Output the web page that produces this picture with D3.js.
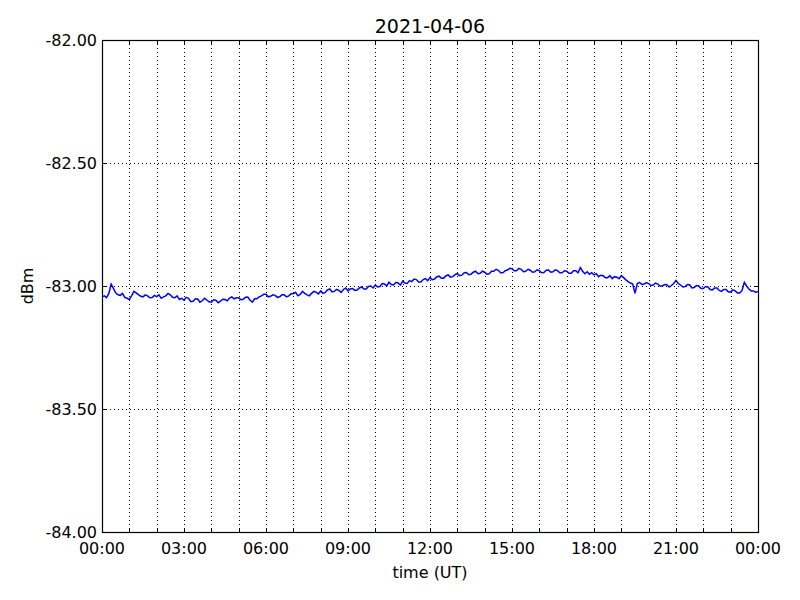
<!DOCTYPE html>
<html><head><meta charset="utf-8">
<script src="https://cdn.jsdelivr.net/npm/d3@7"></script>
<style>body{margin:0;background:#fff;} text{font-family:"DejaVu Sans",sans-serif;}</style>
</head><body><svg id="c" width="800" height="600"></svg>
<script>
const title = "2021-04-06";
const xLabel = "time (UT)";
const yLabel = "dBm";
const yTicks = [-84, -83.5, -83, -82.5, -82];
const xTickHours = [0, 3, 6, 9, 12, 15, 18, 21, 24];
const xTickLabels = ["00:00","03:00","06:00","09:00","12:00","15:00","18:00","21:00","00:00"];
// signal level, 5-minute samples from 00:00 to 24:00 (one row per hour)
const level = [
 -83.044, -83.040, -83.047, -83.030, -82.992, -83.010, -83.028, -83.036, -83.038, -83.030, -83.046, -83.050,
 -83.055, -83.040, -83.022, -83.028, -83.035, -83.042, -83.044, -83.036, -83.040, -83.048, -83.047, -83.038,
 -83.043, -83.036, -83.050, -83.044, -83.040, -83.030, -83.036, -83.046, -83.048, -83.040, -83.055, -83.050,
 -83.058, -83.046, -83.050, -83.064, -83.062, -83.052, -83.053, -83.066, -83.060, -83.050, -83.057, -83.064,
 -83.066, -83.056, -83.058, -83.068, -83.062, -83.054, -83.055, -83.060, -83.049, -83.044, -83.052, -83.048,
 -83.048, -83.056, -83.054, -83.046, -83.045, -83.058, -83.066, -83.052, -83.052, -83.044, -83.040, -83.034,
 -83.034, -83.044, -83.042, -83.036, -83.038, -83.046, -83.044, -83.036, -83.036, -83.044, -83.040, -83.032,
 -83.032, -83.026, -83.040, -83.034, -83.022, -83.030, -83.036, -83.040, -83.030, -83.022, -83.025, -83.032,
 -83.020, -83.030, -83.026, -83.016, -83.012, -83.024, -83.022, -83.014, -83.018, -83.026, -83.014, -83.008,
 -83.020, -83.012, -83.010, -83.018, -83.016, -83.008, -83.004, -83.012, -83.012, -83.002, -83.000, -83.008,
 -82.996, -83.004, -83.002, -82.990, -82.992, -83.000, -82.985, -82.994, -82.996, -82.986, -82.988, -82.996,
 -82.980, -82.988, -82.990, -82.978, -82.982, -82.972, -82.974, -82.984, -82.984, -82.974, -82.970, -82.978,
 -82.966, -82.974, -82.972, -82.962, -82.960, -82.968, -82.968, -82.958, -82.955, -82.964, -82.962, -82.954,
 -82.950, -82.958, -82.956, -82.946, -82.945, -82.954, -82.952, -82.944, -82.940, -82.950, -82.948, -82.940,
 -82.944, -82.952, -82.950, -82.940, -82.940, -82.932, -82.936, -82.946, -82.946, -82.938, -82.935, -82.928,
 -82.930, -82.938, -82.938, -82.928, -82.932, -82.942, -82.940, -82.932, -82.936, -82.944, -82.942, -82.934,
 -82.938, -82.946, -82.945, -82.936, -82.935, -82.944, -82.942, -82.934, -82.938, -82.946, -82.946, -82.938,
 -82.940, -82.948, -82.948, -82.938, -82.938, -82.946, -82.925, -82.940, -82.950, -82.942, -82.952, -82.946,
 -82.955, -82.950, -82.962, -82.956, -82.958, -82.966, -82.966, -82.958, -82.970, -82.962, -82.964, -82.970,
 -82.958, -82.966, -82.975, -82.982, -82.988, -82.992, -83.030, -82.990, -82.985, -82.994, -82.992, -82.986,
 -82.990, -82.998, -82.996, -82.988, -82.992, -83.000, -83.000, -82.994, -82.995, -83.004, -82.998, -82.990,
 -82.978, -82.990, -82.996, -83.004, -83.002, -82.994, -82.995, -83.008, -83.006, -82.998, -83.000, -83.010,
 -83.010, -83.002, -83.004, -83.014, -83.016, -83.008, -83.008, -83.018, -83.022, -83.014, -83.014, -83.024,
 -83.024, -83.016, -83.020, -83.028, -83.028, -83.018, -82.985, -83.000, -83.012, -83.020, -83.020, -83.026,
 -83.022
];
const stepMinutes = 5;

const svg = d3.select("#c");
const L = 102, R = 758, T = 40, B = 532;
const x = d3.scaleLinear().domain([0, 24]).range([L, R]);
const y = d3.scaleLinear().domain([-84, -82]).range([B, T]);
const hours = d3.range(0, 25);

// grid
const g = svg.append("g").attr("stroke", "#000").attr("stroke-width", 1).attr("stroke-dasharray", "1,3");
hours.slice(1, -1).forEach(h => g.append("line").attr("x1", Math.round(x(h)) + 0.5).attr("x2", Math.round(x(h)) + 0.5).attr("y1", T).attr("y2", B));
yTicks.slice(1, -1).forEach(v => g.append("line").attr("y1", Math.round(y(v)) + 0.5).attr("y2", Math.round(y(v)) + 0.5).attr("x1", L).attr("x2", R));

// data line
const line = d3.line().x((d, i) => x(i * stepMinutes / 60)).y(d => y(d));
svg.append("path").datum(level).attr("d", line).attr("fill", "none").attr("stroke", "#0000ff").attr("stroke-width", 1.5);

// axes (inward ticks)
const ax = svg.append("g").attr("stroke", "#000").attr("stroke-width", 1);
hours.forEach(h => {
  const px = Math.round(x(h)) + 0.5;
  ax.append("line").attr("x1", px).attr("x2", px).attr("y1", B).attr("y2", B - 4);
  ax.append("line").attr("x1", px).attr("x2", px).attr("y1", T).attr("y2", T + 4);
});
yTicks.forEach(v => {
  const py = Math.round(y(v)) + 0.5;
  ax.append("line").attr("x1", L).attr("x2", L + 4).attr("y1", py).attr("y2", py);
  ax.append("line").attr("x1", R).attr("x2", R - 4).attr("y1", py).attr("y2", py);
});
svg.append("rect").attr("x", L + 0.5).attr("y", T + 0.5).attr("width", R - L).attr("height", B - T)
  .attr("fill", "none").attr("stroke", "#000").attr("stroke-width", 1.2);

// tick labels
xTickHours.forEach((h, i) => svg.append("text").attr("x", x(h)).attr("y", 554).attr("text-anchor", "middle")
  .attr("font-size", 16).text(xTickLabels[i]));
yTicks.forEach(v => svg.append("text").attr("x", 97).attr("y", y(v) + 6).attr("text-anchor", "end")
  .attr("font-size", 16).text(v.toFixed(2)));

svg.append("text").attr("x", 430).attr("y", 578).attr("text-anchor", "middle").attr("font-size", 16).text(xLabel);
svg.append("text").attr("transform", "translate(33,286) rotate(-90)").attr("text-anchor", "middle").attr("font-size", 16).text(yLabel);
svg.append("text").attr("x", 430).attr("y", 33).attr("text-anchor", "middle").attr("font-size", 19).text(title);
</script></body></html>
